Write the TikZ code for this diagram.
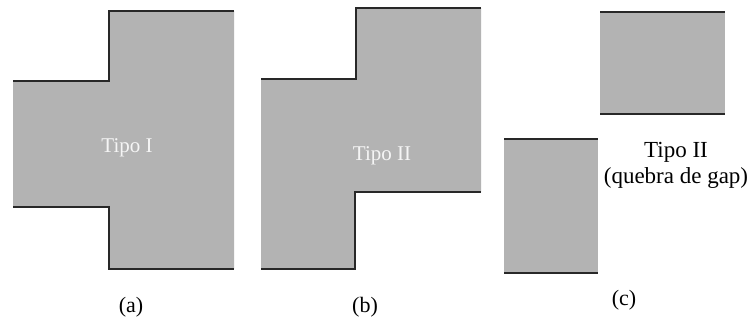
\documentclass[tikz,border=0pt]{standalone}
\usepackage{fontspec}
\setmainfont{Liberation Serif}
\begin{document}
\begin{tikzpicture}[x=1pt,y=-1pt,
  block/.style={fill=blockgray,draw=none},
  edge/.style={draw=edgegray,line width=1.3pt,line join=miter},
  inlabel/.style={text=white!92!gray,font=\fontsize{21}{24}\selectfont},
  caption/.style={text=black,font=\fontsize{22}{26}\selectfont}]
\definecolor{blockgray}{RGB}{179,179,179}
\definecolor{edgegray}{RGB}{40,40,40}
\useasboundingbox (0,0) rectangle (755,323);

% (a) Tipo I: symmetric cross-shaped outline
\fill[block] (13,81) -- (109,81) -- (109,11) -- (234,11) -- (234,269)
  -- (109,269) -- (109,207) -- (13,207) -- cycle;
\draw[edge] (13,81) -- (109,81) -- (109,11) -- (234,11);
\draw[edge] (13,207) -- (109,207) -- (109,269) -- (234,269);
\node[inlabel] (ta) at (127,148) {Tipo I};
\node[caption] (la) at (131,307) {(a)};

% (b) Tipo II: stepped outline
\fill[block] (261,79) -- (356,79) -- (356,8) -- (481,8) -- (481,192)
  -- (355,192) -- (355,269) -- (261,269) -- cycle;
\draw[edge] (261,79) -- (356,79) -- (356,8) -- (481,8);
\draw[edge] (481,192) -- (355,192) -- (355,269) -- (261,269);
\node[inlabel] (tb) at (382,156) {Tipo II};
\node[caption] (lb) at (365,307) {(b)};

% (c) Tipo II with gap break: two separate blocks
\fill[block] (600,12) rectangle (725,114);
\draw[edge] (600,12) -- (725,12);
\draw[edge] (600,114) -- (725,114);
\fill[block] (504,139) rectangle (598,273);
\draw[edge] (504,139) -- (598,139);
\draw[edge] (504,273) -- (598,273);
\node[caption,align=center,inner sep=0pt,
  font=\fontsize{23}{26}\selectfont] (tc) at (676,165)
  {Tipo II\\(quebra de gap)};
\node[caption] (lc) at (624,300) {(c)};
\end{tikzpicture}
\end{document}
